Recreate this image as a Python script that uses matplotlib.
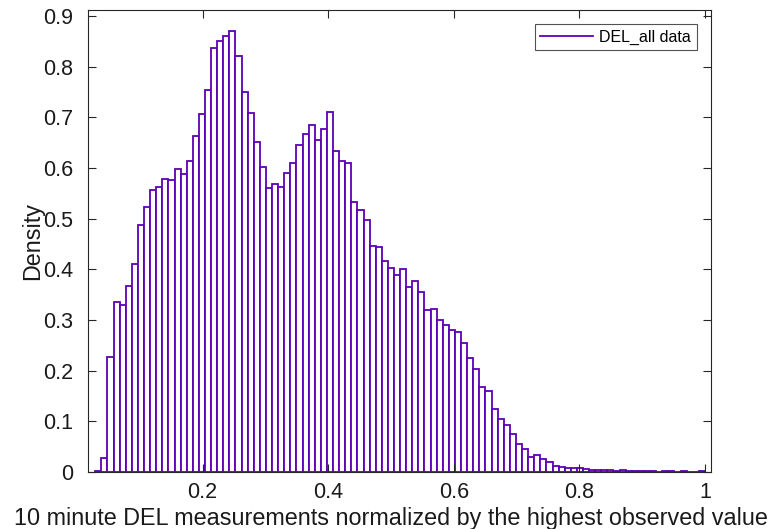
import numpy as np
import matplotlib
matplotlib.use("Agg")
import matplotlib.pyplot as plt
from matplotlib.ticker import FuncFormatter
from matplotlib.lines import Line2D

# Histogram (pdf-normalised): 100 bins from min to max
bin_lo = 0.029
bin_hi = 1.0
n_bins = 100
density = [
    0.001, 0.028, 0.227, 0.336, 0.329, 0.367, 0.410, 0.488, 0.524, 0.556,
    0.562, 0.578, 0.576, 0.599, 0.588, 0.613, 0.663, 0.706, 0.754, 0.838,
    0.851, 0.861, 0.870, 0.821, 0.750, 0.709, 0.651, 0.602, 0.561, 0.568,
    0.562, 0.591, 0.610, 0.646, 0.668, 0.686, 0.655, 0.678, 0.710, 0.634,
    0.613, 0.610, 0.533, 0.518, 0.497, 0.447, 0.445, 0.416, 0.403, 0.388,
    0.401, 0.366, 0.378, 0.356, 0.320, 0.322, 0.300, 0.290, 0.280, 0.277,
    0.254, 0.225, 0.204, 0.168, 0.159, 0.125, 0.105, 0.093, 0.074, 0.055,
    0.045, 0.029, 0.033, 0.025, 0.019, 0.0125, 0.0105, 0.0086, 0.0086, 0.0086,
    0.0065, 0.004, 0.0045, 0.0045, 0.003, 0.002, 0.003, 0.002, 0.0015, 0.0015,
    0.001, 0.001, 0.0005, 0.0012, 0.0012, 0.0008, 0.0012, 0.0008, 0.0005, 0.0012,
]
x_ticks = [0.2, 0.4, 0.6, 0.8, 1.0]
y_ticks = [0, 0.1, 0.2, 0.3, 0.4, 0.5, 0.6, 0.7, 0.8, 0.9]

plt.rcParams["font.family"] = ["Liberation Sans", "DejaVu Sans"]

edges = np.linspace(bin_lo, bin_hi, n_bins + 1)
bar_color = "#5e00b4"
axis_color = "#262626"

fig = plt.figure(figsize=(7.77, 5.29), dpi=100)
ax = fig.add_axes([0.1133, 0.1078, 0.8018, 0.8742])

ax.bar(edges[:-1], density, width=np.diff(edges), align="edge",
       facecolor="white", edgecolor=bar_color, linewidth=1.3)

ax.set_xlim(0.0175, 1.0097)
ax.set_ylim(0, 0.913)
ax.set_xticks(x_ticks)
ax.set_yticks(y_ticks)
ax.xaxis.set_major_formatter(FuncFormatter(lambda v, p: f"{v:g}"))
ax.yaxis.set_major_formatter(FuncFormatter(lambda v, p: f"{v:g}"))

ax.tick_params(direction="in", length=6, width=0.8, top=True, right=True,
               labelsize=15.5, colors=axis_color, labelcolor="#1a1a1a")
ax.tick_params(axis="y", pad=11)
ax.tick_params(axis="x", pad=7)
for s in ax.spines.values():
    s.set_color(axis_color)
    s.set_linewidth(0.8)

ax.set_xlabel("10 minute DEL measurements normalized by the highest observed value",
              fontsize=16.8, color="#1a1a1a")
ax.set_ylabel("Density", fontsize=16.8, color="#1a1a1a")
ax.xaxis.set_label_coords(0.487, -0.075)
ax.yaxis.set_label_coords(-0.071, 0.5)

# legend uses a line sample like MATLAB
handle = Line2D([0], [0], color=bar_color, linewidth=1.3)
leg = ax.legend([handle], ["DEL_all data"], loc="upper right", fontsize=11.5,
                frameon=True, fancybox=False, borderpad=0.35, handlelength=3.3,
                handletextpad=0.4, borderaxespad=0.9)
leg.get_frame().set_edgecolor(axis_color)
leg.get_frame().set_linewidth(0.8)

fig.savefig("out.png", dpi=100)
